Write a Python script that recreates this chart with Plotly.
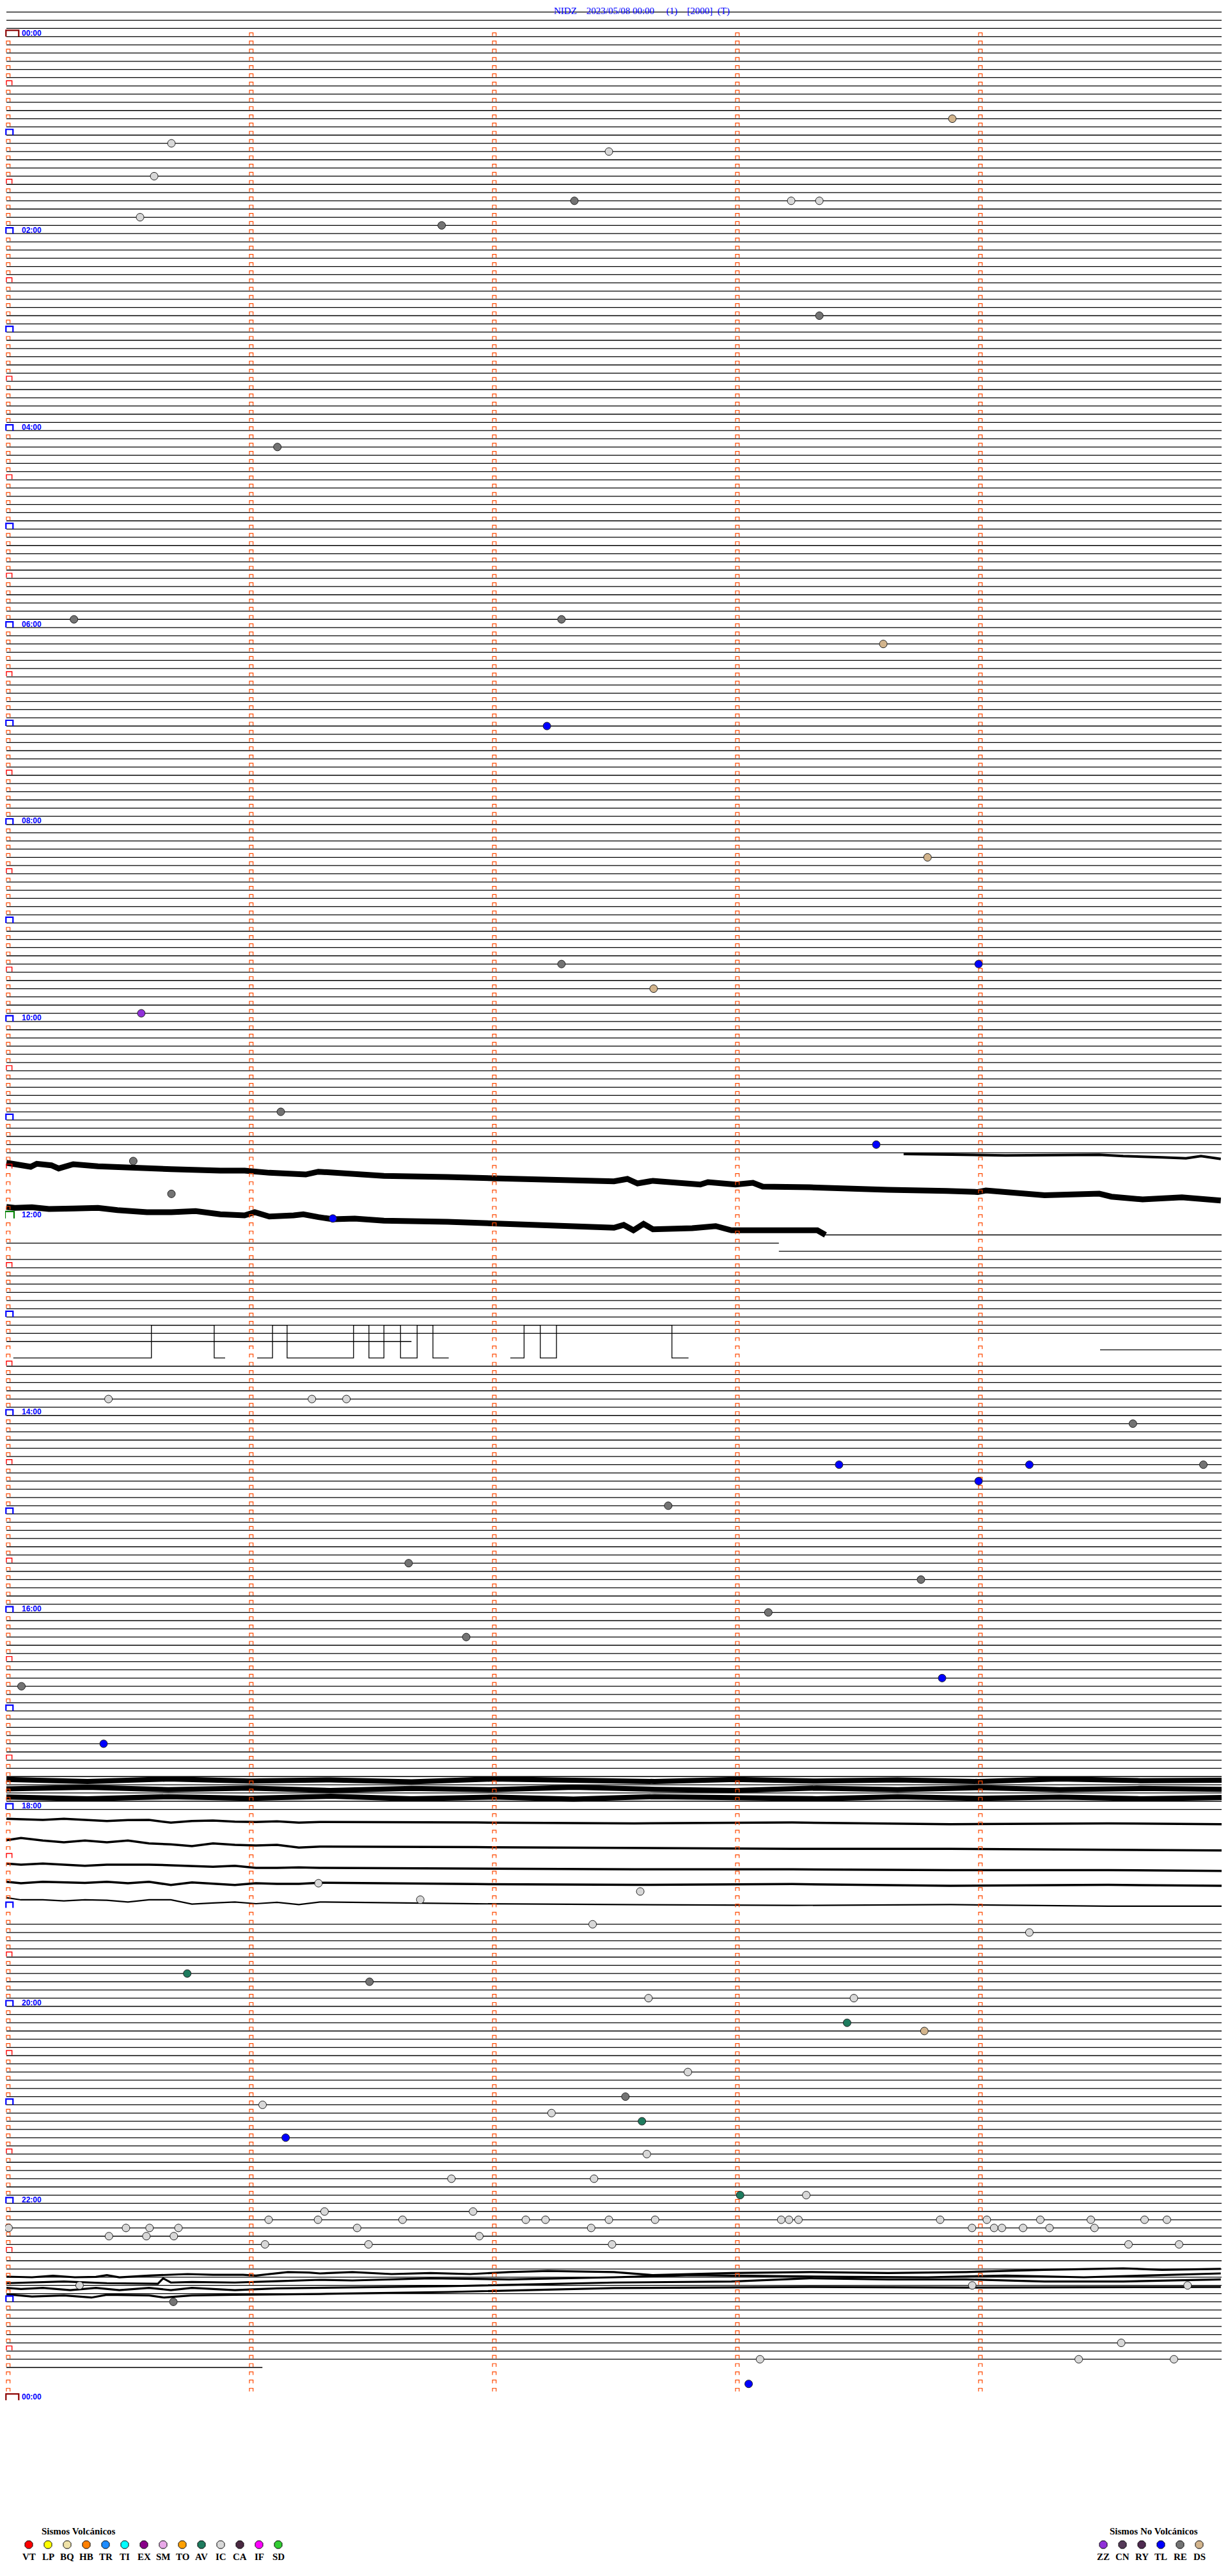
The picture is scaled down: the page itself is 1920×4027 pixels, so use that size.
import plotly.graph_objects as go

# ---------------- data ----------------
TITLE = ("NIDZ" + "\u00a0" * 4 + "2023/05/08 00:00" + "\u00a0" * 5 + "(1)" +
         "\u00a0" * 4 + "[2000]" + "\u00a0" * 2 + "(T)")

ROW_FIRST = -3          # rows before 00:00 shown at the top
ROW_LAST = 287          # 288 rows of 5 minutes = 24 h
ROW_SECONDS = 300
MARK_SECONDS = [0, 60, 120, 180, 240]

HOUR_LABELS = ["00:00", "02:00", "04:00", "06:00", "08:00", "10:00", "12:00",
               "14:00", "16:00", "18:00", "20:00", "22:00", "00:00"]
HOUR_LABEL_ROWS = [0, 24, 48, 72, 96, 120, 144, 168, 192, 216, 240, 264, 288]

BLANK_ROWS = list(range(137, 146)) + [161] + list(range(217, 230)) + [285, 286, 287]
PARTIAL_ROWS = {146: [(202, 300)], 147: [(0, 190.7)], 148: [(190.7, 300)],
                159: [(0, 100)], 160: [(270, 300)], 284: [(0, 63.2)]}

# calibration square wave (row 161)
SQ_T = [1.7, 35.8, 35.8, 51.3, 51.3, 54.0, None,
        61.9, 65.7, 65.7, 69.3, 69.3, 85.7, 85.7, 89.5, 89.5, 93.2, 93.2, 97.3, 97.3,
        101.4, 101.4, 105.3, 105.3, 109.2, None,
        124.4, 127.8, 127.8, 131.8, 131.8, 135.8, 135.8, 164.3, 164.3, 168.4]
SQ_ROW = [161, 161, 157, 157, 161, 161, None,
          161, 161, 157, 157, 161, 161, 157, 157, 161, 161, 157, 157, 161,
          161, 157, 157, 161, 161, None,
          161, 161, 157, 157, 161, 161, 157, 157, 161, 161]

# noisy / drifting traces: time (s) and vertical position (row units)
N144_T = [221.5, 232.1, 246.6, 269.8, 275.7, 285.3, 291.2, 294.9, 299.8]
N144_R = [136.15, 136.23, 136.31, 136.23, 136.40, 136.56, 136.67, 136.40, 136.74]

N145_T = [0, 3.3, 6.0, 7.5, 11.1, 12.9, 16.5, 22.6, 31.0, 40.7, 52.8, 58.8, 64.9, 73.9, 77.0,
          83.0, 93.2, 108.9, 124.7, 140.5, 150.0, 153.3, 155.8, 159.6, 166.4, 171.3, 173.2,
          180.0, 184.3, 186.7, 198.3, 207.9, 217.6, 232.1, 239.8, 241.8, 251.5, 256.3,
          269.8, 272.8, 280.5, 290.2, 299.8]
N145_R = [137.21, 137.52, 137.70, 137.33, 137.52, 137.91, 137.39, 137.64, 137.86, 137.99,
          138.17, 138.17, 138.43, 138.64, 138.30, 138.43, 138.81, 138.95, 139.18, 139.33,
          139.47, 139.18, 139.73, 139.41, 139.57, 139.86, 139.57, 139.86, 139.65, 140.12,
          140.20, 140.43, 140.51, 140.64, 140.77, 140.59, 140.98, 141.16, 140.98, 141.34,
          141.68, 141.42, 141.81]

N146_T = [0, 2.1, 6.3, 10.5, 16.5, 22.6, 27.4, 34.7, 40.7, 46.7, 52.8, 58.8, 61.3, 64.9,
          70.9, 73.3, 77.0, 80.6, 86.0, 93.2, 108.9, 124.7, 140.5, 150.0, 152.4, 154.8,
          157.3, 159.6, 169.3, 175.1, 179.0, 188.7, 200.2, 202.2]
N146_R = [142.59, 142.71, 142.63, 142.84, 142.79, 142.71, 142.98, 143.23, 143.23, 143.10,
          143.49, 143.62, 143.23, 143.76, 143.62, 143.49, 143.83, 144.09, 144.01, 144.27,
          144.40, 144.63, 144.87, 145.13, 144.79, 145.44, 144.66, 145.31, 145.18, 144.93,
          145.44, 145.49, 145.44, 146.0]

# dense band 17:40-17:55
BAND_T = [0, 20, 40, 60, 80, 100, 120, 140, 160, 180, 200, 220, 240, 260, 280, 300]
BAND1_R = [212.35, 212.6, 212.3, 212.55, 212.4, 212.65, 212.3, 212.5, 212.6, 212.35, 212.55,
           212.4, 212.6, 212.3, 212.5, 212.45]
BAND2_R = [213.5, 213.3, 213.6, 213.4, 213.7, 213.45, 213.6, 213.3, 213.55, 213.7, 213.4,
           213.6, 213.35, 213.6, 213.45, 213.55]
BAND3_R = [214.5, 214.7, 214.45, 214.65, 214.4, 214.7, 214.5, 214.75, 214.45, 214.6, 214.7,
           214.45, 214.65, 214.5, 214.7, 214.55]

# wavy traces after 18:00
WAVE_T = [0, 3.6, 9.0, 14.2, 19.4, 24.8, 30.0, 35.2, 40.6, 45.8, 51.0, 56.4, 61.6, 66.8,
          72.2, 77.4, 116, 155, 194, 233, 272, 300]
WAVE_A = [217.15, 217.2, 217.28, 217.15, 217.26, 217.41, 217.3, 217.28, 217.62, 217.41,
          217.36, 217.49, 217.54, 217.46, 217.62, 217.54, 217.6, 217.7, 217.6, 217.8, 217.7, 217.8]
WAVE_B = [219.75, 219.48, 219.8, 220.0, 219.8, 220.0, 219.8, 220.14, 220.27, 220.48, 220.14,
          220.32, 220.4, 220.32, 220.65, 220.53, 220.6, 220.7, 220.8, 220.8, 220.9, 221.0]
WAVE_C = [222.6, 222.73, 222.6, 222.73, 222.87, 222.73, 222.73, 222.73, 222.81, 222.91,
          222.99, 222.87, 223.13, 223.13, 223.07, 223.13, 223.2, 223.3, 223.3, 223.4, 223.4, 223.5]
WAVE_D = [224.82, 225.0, 224.82, 224.9, 224.95, 224.82, 225.0, 224.82, 225.21, 224.9, 225.07,
          225.21, 225.0, 225.07, 225.07, 224.94, 225.1, 225.2, 225.1, 225.3, 225.2, 225.3]
WAVE_E = [226.76, 227.02, 227.02, 227.15, 227.02, 227.07, 227.28, 227.02, 227.02, 227.54,
          227.41, 227.28, 227.49, 227.33, 227.59, 227.28, 227.5, 227.6, 227.7, 227.6, 227.8, 227.8]

# wavy band near 22:40
W1_T = [0, 6.3, 11.5, 16.9, 22.1, 24.8, 27.9, 35.2, 44.7, 51, 58.4, 61.6, 69.5, 74.7, 77.4,
        85.4, 95.1, 104.7, 114.5, 124.1, 133.7, 150, 159.6, 179, 198.3, 217.7, 237, 256.3,
        275.7, 285.3, 299.8]
W1_R = [272.93, 273.01, 272.83, 273.01, 272.96, 272.75, 273.01, 272.8, 272.62, 272.7, 272.7,
        272.8, 272.37, 272.44, 272.54, 272.37, 272.62, 272.49, 272.62, 272.37, 272.24, 272.37,
        272.75, 272.49, 272.37, 272.49, 272.37, 272.1, 271.92, 272.1, 271.98]
W2_T = [0, 6.3, 14.2, 24.8, 35.2, 37.4, 38.7, 40.6, 45.8, 56.4, 66.8, 77.4, 85.4, 104.7,
        124.1, 150, 169.3, 188.7, 207.9, 227.4, 246.6, 266, 285.3, 299.8]
W2_R = [273.73, 273.65, 273.53, 273.73, 273.73, 273.79, 273.14, 273.65, 273.58, 273.65,
        273.48, 273.32, 273.4, 273.14, 273.27, 273.01, 272.75, 272.88, 272.96, 273.01, 272.8,
        273.01, 272.75, 272.54]
W3_T = [0, 3.6, 9, 15.8, 22.1, 27.9, 35.2, 40.6, 45.8, 51, 56.4, 66.8, 77.4, 109, 150, 179,
        198.3, 217.7, 237, 256.3, 275.7, 299.8]
W3_R = [274.31, 274.44, 274.31, 274.57, 274.31, 274.57, 274.31, 274.57, 274.31, 274.44,
        274.57, 274.36, 274.31, 274.1, 273.65, 273.53, 273.14, 273.27, 273.27, 273.53, 273.53,
        273.27]
W4_T = [0, 6.3, 14.2, 21, 24.8, 35.2, 39, 45.8, 56.4, 66.8, 77.4, 109, 150, 198.3, 237, 299.8]
W4_R = [275.09, 275.35, 275.22, 275.48, 275.14, 275.22, 275.48, 275.22, 275.14, 275.09,
        275.04, 274.8, 274.33, 274.18, 274.26, 274.18]

# classified events: row (5-minute line), time within the row (min), type
EV_ROW = [10, 13, 14, 17, 20, 20, 20, 22, 23, 34, 50, 71, 71, 74, 84, 100, 113, 113, 116, 119,
          131, 135, 137, 141, 144, 166, 166, 166, 169, 174, 174, 174, 176, 179, 186, 188, 192,
          195, 200, 201, 208, 225, 226, 230, 231, 236, 237, 239, 239, 242, 243, 248, 251, 252,
          253, 254, 256, 258, 261, 261, 263, 263, 265, 265,
          266, 266, 266, 266, 266, 266, 266, 266, 266, 266, 266, 266, 266, 266, 266, 266,
          267, 267, 267, 267, 267, 267, 267, 267, 267, 267, 267, 267,
          268, 268, 268, 268, 269, 269, 269, 269, 269, 274, 274, 274, 276, 281, 283, 283, 283, 286,
          227]
EV_MIN = [3.892, 0.679, 2.479, 0.608, 2.337, 3.229, 3.345, 0.550, 1.791, 3.345, 1.115, 0.278,
          2.284, 3.608, 2.224, 3.790, 2.284, 4.000, 2.663, 0.555, 1.129, 3.579, 0.522, 0.679,
          1.343, 0.420, 1.257, 1.399, 4.635, 3.426, 4.209, 4.925, 4.000, 2.723, 1.655, 3.763,
          3.135, 1.892, 3.850, 0.062, 0.400, 1.284, 2.608, 2.412, 4.209, 0.744, 1.494, 2.642,
          3.487, 3.459, 3.777, 2.804, 2.547, 1.054, 2.243, 2.615, 1.149, 2.635, 1.831, 2.418,
          3.019, 3.291, 1.309, 1.920,
          1.079, 1.282, 1.630, 2.137, 2.218, 2.479, 2.669, 3.188, 3.220, 3.259, 3.842, 4.034,
          4.254, 4.462, 4.683, 4.775,
          0.009, 0.492, 0.589, 0.708, 1.443, 2.406, 3.973, 4.064, 4.096, 4.183, 4.292, 4.477,
          0.422, 0.576, 0.689, 1.946, 1.064, 1.490, 2.492, 4.617, 4.825, 0.301, 3.974, 4.860,
          0.687, 4.587, 3.101, 4.412, 4.804, 3.054,
          1.703]
EV_TYPE = ["DS", "IC", "IC", "IC", "RE", "IC", "IC", "IC", "RE", "RE", "RE", "RE", "RE", "DS",
           "TL", "DS", "RE", "TL", "DS", "ZZ", "RE", "TL", "RE", "RE", "TL", "IC", "IC", "IC",
           "RE", "TL", "TL", "RE", "TL", "RE", "RE", "RE", "RE", "RE", "TL", "RE", "TL", "IC",
           "IC", "IC", "IC", "AV", "RE", "IC", "IC", "AV", "DS", "IC", "RE", "IC", "IC", "AV",
           "TL", "IC", "IC", "IC", "AV", "IC", "IC", "IC"] + ["IC"] * 16 + ["IC"] * 12 + \
          ["IC"] * 9 + ["IC", "IC", "IC", "RE", "IC", "IC", "IC", "IC", "TL"] + ["IC"]

VOLC_CODES = ["VT", "LP", "BQ", "HB", "TR", "TI", "EX", "SM", "TO", "AV", "IC", "CA", "IF", "SD"]
VOLC_COLORS = ["#ff0000", "#ffff00", "#efe2a8", "#ff8000", "#1e8cff", "#00ffff", "#880088",
               "#e8a8e8", "#ffa000", "#1e7b5e", "#d8d8d8", "#4a2a42", "#ff00ff", "#33cc33"]
NONV_CODES = ["ZZ", "CN", "RY", "TL", "RE", "DS"]
NONV_COLORS = ["#9030d8", "#553a58", "#4e2a50", "#0000ff", "#737373", "#d2b48c"]

# ---------------- geometry (screen pixels) ----------------
OFF = 8                      # body margin of the html page
W, H = 1920 - 2 * OFF, 4027 - 2 * OFF
X0, PX_PER_S = 10.0, 380.0 / 60.0
Y0, PX_PER_ROW = 57.3, 12.83
PX_S = 1.0 / PX_PER_S
PX_R = 1.0 / PX_PER_ROW

x_range = [(OFF - X0) * PX_S, (OFF + W - X0) * PX_S]
y_range = [(OFF + H - Y0) * PX_R, (OFF - Y0) * PX_R]

fig = go.Figure()

# flat baselines
fx, fy = [], []
for r in range(ROW_FIRST, ROW_LAST + 1):
    if r in BLANK_ROWS:
        continue
    for a, b in PARTIAL_ROWS.get(r, [(0, ROW_SECONDS)]):
        fx += [a, b, None]
        fy += [r, r, None]
fig.add_trace(go.Scatter(x=fx, y=fy, mode="lines", line=dict(color="black", width=1.3),
                         hoverinfo="skip"))

# square wave
fig.add_trace(go.Scatter(x=SQ_T, y=SQ_ROW, mode="lines", line=dict(color="black", width=1.3),
                         hoverinfo="skip"))

def wig(t, r, w):
    fig.add_trace(go.Scatter(x=t, y=r, mode="lines", line=dict(color="black", width=w),
                             hoverinfo="skip"))

wig(N144_T, N144_R, 4)
wig(N145_T, N145_R, 9)
wig(N146_T, N146_R, 9)
wig(BAND_T, BAND1_R, 8)
wig(BAND_T, BAND2_R, 8)
wig(BAND_T, BAND3_R, 8)
wig(WAVE_T, WAVE_A, 3.5)
wig(WAVE_T, WAVE_B, 3.5)
wig(WAVE_T, WAVE_C, 3.5)
wig(WAVE_T, WAVE_D, 3.5)
wig(WAVE_T, WAVE_E, 2.2)
wig(W1_T, W1_R, 3.2)
wig(W2_T, W2_R, 3.2)
wig(W3_T, W3_R, 3.2)
wig(W4_T, W4_R, 3.2)

# minute tick brackets
def bracket(xs, ys, t, r, left_px, w_px, h_px, gap_px):
    x0 = t + left_px * PX_S
    x1 = x0 + w_px * PX_S
    yb = r - gap_px * PX_R
    yt = r - h_px * PX_R
    xs += [x0, x0, x1, x1, None]
    ys += [yb, yt, yt, yb, None]

small_x, small_y = [], []
red_x, red_y = [], []
blue_x, blue_y = [], []
dred_x, dred_y = [], []
grn_x, grn_y = [], []
for r in range(0, 288):
    for t in MARK_SECONDS:
        if t == 0 and r % 6 == 0:
            continue
        bracket(small_x, small_y, t, r, 0, 5.7, 6, 1)
for r in range(0, 289):
    if r in (0, 288):
        bracket(dred_x, dred_y, 0, r, -0.7, 20, 10, 0)
    elif r == 144:
        bracket(grn_x, grn_y, 0, r, -2, 14, 11, 0)
    elif r % 12 == 0:
        bracket(blue_x, blue_y, 0, r, -0.7, 11, 9, 0)
    elif r % 6 == 0:
        bracket(red_x, red_y, 0, r, 0, 8.7, 8, 1)

for xs, ys, col, w in [(small_x, small_y, "#ff4800", 1.2), (red_x, red_y, "#ff0000", 1.4),
                       (blue_x, blue_y, "#0000ff", 2.2), (dred_x, dred_y, "#8b0000", 2.2),
                       (grn_x, grn_y, "#008000", 2.2)]:
    fig.add_trace(go.Scatter(x=xs, y=ys, mode="lines", line=dict(color=col, width=w),
                             hoverinfo="skip"))

# events
type_colors = dict(zip(VOLC_CODES + NONV_CODES, VOLC_COLORS + NONV_COLORS))
for typ in sorted(set(EV_TYPE)):
    xs = [m * 60 for m, ty in zip(EV_MIN, EV_TYPE) if ty == typ]
    ys = [r for r, ty in zip(EV_ROW, EV_TYPE) if ty == typ]
    fig.add_trace(go.Scatter(x=xs, y=ys, mode="markers",
                             marker=dict(size=12, color=type_colors[typ],
                                         line=dict(color="#202020", width=1)),
                             hoverinfo="skip"))

# ---------------- text & legend (screen pixel axis) ----------------
ann = []
ann.append(dict(x=1003, y=17, xref="x2", yref="y2", text=TITLE, showarrow=False,
                font=dict(family="Liberation Serif", size=15, color="#0000ff"),
                xanchor="center", yanchor="middle"))
for lab, r in zip(HOUR_LABELS, HOUR_LABEL_ROWS):
    ann.append(dict(x=(32 - X0) * PX_S, y=r - 5.5 * PX_R, xref="x", yref="y", text=lab,
                    showarrow=False, xanchor="left", yanchor="middle",
                    font=dict(family="Liberation Sans", size=12, color="#0000ff", weight="bold")))

ann.append(dict(x=63, y=3957, xref="x2", yref="y2", text="Sismos Volcánicos", showarrow=False,
                xanchor="left", yanchor="middle",
                font=dict(family="Liberation Serif", size=15, color="black", weight="bold")))
ann.append(dict(x=1733, y=3957, xref="x2", yref="y2", text="Sismos No Volcánicos",
                showarrow=False, xanchor="left", yanchor="middle",
                font=dict(family="Liberation Serif", size=15, color="black", weight="bold")))

lx = [45 + 30 * i for i in range(len(VOLC_CODES))] + [1725 + 30 * i for i in range(len(NONV_CODES))]
lcodes = VOLC_CODES + NONV_CODES
lcols = VOLC_COLORS + NONV_COLORS
fig.add_trace(go.Scatter(x=lx, y=[3978] * len(lx), xaxis="x2", yaxis="y2", mode="markers",
                         marker=dict(size=13, color=lcols, symbol="octagon",
                                     line=dict(color="black", width=1)),
                         hoverinfo="skip"))
for x, c in zip(lx, lcodes):
    ann.append(dict(x=x, y=3997, xref="x2", yref="y2", text=c, showarrow=False,
                    xanchor="center", yanchor="middle",
                    font=dict(family="Liberation Serif", size=15, color="black", weight="bold")))

fig.update_layout(
    width=W, height=H, margin=dict(l=0, r=0, t=0, b=0, pad=0),
    paper_bgcolor="white", plot_bgcolor="white", showlegend=False,
    xaxis=dict(range=x_range, visible=False, fixedrange=True),
    yaxis=dict(range=y_range, visible=False, fixedrange=True),
    xaxis2=dict(range=[OFF, OFF + W], visible=False, overlaying="x", anchor="y2"),
    yaxis2=dict(range=[OFF + H, OFF], visible=False, overlaying="y", anchor="x2"),
    annotations=ann,
)
fig.write_html("out.html")
